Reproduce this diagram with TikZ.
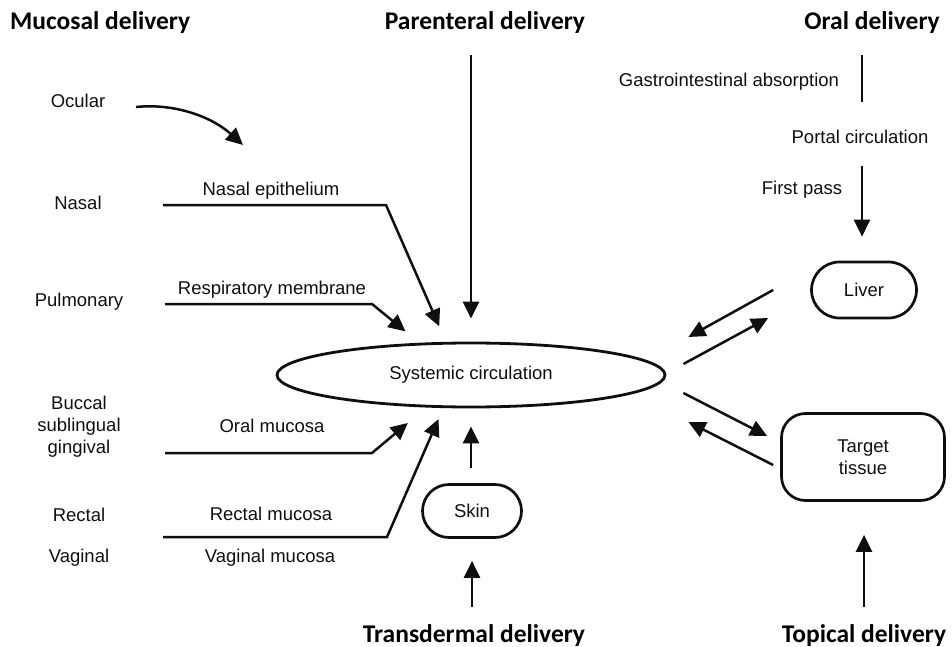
\documentclass[tikz,border=0pt]{standalone}
\usepackage{fontspec}
\setmainfont{Liberation Sans}
\newfontfamily\headfont{Carlito}
\usepackage{tikz}
\usetikzlibrary{arrows.meta,calc,shapes.geometric,shapes.misc}
\definecolor{figline}{RGB}{15,15,15}
\tikzset{
  hd/.style   ={font=\headfont\bfseries\fontsize{25.5}{30}\selectfont, inner sep=0pt},
  lab/.style  ={font=\fontsize{18.5}{22}\selectfont, inner sep=1pt, text=figline},
  oval/.style ={lab, draw=figline, line width=2.8pt, ellipse, inner sep=0pt,
                minimum width=388pt, minimum height=64pt},
  pill/.style ={lab, draw=figline, line width=2.7pt, rounded rectangle, inner sep=0pt},
  box/.style  ={lab, draw=figline, line width=2.7pt, rectangle, rounded corners=24pt,
                align=center, inner sep=0pt},
  rte/.style  ={draw=figline, line width=2.5pt},
  arw/.style  ={draw=figline, line width=2.5pt, -{Triangle[length=17pt,width=16pt]}},
}

\begin{document}
\begin{tikzpicture}[x=1pt,y=-1pt]
  \useasboundingbox (0,0) rectangle (952,647);
  \node[hd,anchor=base west] (mucosal) at (10,30) {Mucosal delivery};
  \node[hd,anchor=base] (parenteral) at (485,30) {Parenteral delivery};
  \node[hd,anchor=base east] (oral) at (940,30) {Oral delivery};
  \node[hd,anchor=base] (transdermal) at (474,642) {Transdermal delivery};
  \node[hd,anchor=base] (topical) at (864,642) {Topical delivery};

  \node[oval] (sys) at (471,375) {Systemic circulation};
  \node[pill,minimum width=105pt,minimum height=56pt] (liver) at (864,290) {Liver};
  \node[pill,minimum width=99pt,minimum height=53pt] (skin) at (472,511) {Skin};
  \node[box,minimum width=163pt,minimum height=87pt] (target) at (863,457) {Target\\tissue};

  \node[lab,anchor=base] (ocular) at (78,108) {Ocular};
  \node[lab,anchor=base] (nasal) at (78,209) {Nasal};
  \node[lab,anchor=base] (pulmonary) at (79,306) {Pulmonary};
  \node[lab,anchor=north,align=center] (buccal) at (79,395) {Buccal\\sublingual\\gingival};
  \node[lab,anchor=base] (rectal) at (79,521) {Rectal};
  \node[lab,anchor=base] (vaginal) at (79,562) {Vaginal};
  \node[lab,anchor=base] (nasalepi) at (271,195) {Nasal epithelium};
  \node[lab,anchor=base] (respmem) at (272,294) {Respiratory membrane};
  \node[lab,anchor=base] (oralmuc) at (272,432) {Oral mucosa};
  \node[lab,anchor=base] (rectmuc) at (271,520) {Rectal mucosa};
  \node[lab,anchor=base] (vagmuc) at (270,562) {Vaginal mucosa};
  \node[lab,anchor=base] (giabs) at (729,87) {Gastrointestinal absorption};
  \node[lab,anchor=base] (portal) at (860,144) {Portal circulation};
  \node[lab,anchor=base] (firstpass) at (802,194) {First pass};

  \coordinate (ocA) at (136,107);
  \coordinate (ocB) at (243,145);
  \draw[arw] (ocA) .. controls (175,103) and (212,117) .. (ocB);

  \coordinate (nasA) at (163,205);
  \coordinate (nasB) at (386,205);
  \draw[arw,shorten >=17pt] (nasA) -- (nasB) -- (sys.127);
  \coordinate (pulA) at (165,304);
  \coordinate (pulB) at (372,304);
  \draw[arw,shorten >=18pt] (pulA) -- (pulB) -- (sys.148);
  \coordinate (bucA) at (165,453);
  \coordinate (bucB) at (372,453);
  \draw[arw,shorten >=24pt] (bucA) -- (bucB) -- (sys.216);
  \coordinate (recA) at (163,537);
  \coordinate (recB) at (387,537);
  \draw[arw,shorten >=12pt] (recA) -- (recB) -- (sys.230);

  \coordinate (parA) at (471,55);
  \draw[arw,shorten >=23pt] (parA) -- (sys.north);
  \draw[arw,shorten <=15pt,shorten >=18pt] (skin.north -| sys.south) -- (sys.south);
  \coordinate (trA) at (472,607);
  \draw[arw,shorten >=22pt] (trA) -- (skin.south);
  \coordinate (topA) at (864,607);
  \draw[arw,shorten >=33pt] (topA) -- (target.south -| topA);

  \coordinate (giA) at (862,55);
  \coordinate (giB) at (862,102);
  \draw[rte] (giA) -- (giB);
  \coordinate (fpA) at (862,166);
  \draw[arw,shorten >=24pt] (fpA) -- (liver.north -| fpA);

  \draw[arw] ($(liver.west)+(-37,0)$) -- ($(sys.east)+(22,-38)$);
  \draw[arw] ($(sys.east)+(17,-11)$) -- ($(liver.west)+(-42,28)$);
  \draw[arw] ($(sys.east)+(17,18)$) -- ($(target.west)+(-13,-21)$);
  \draw[arw] ($(target.west)+(-7,8)$) -- ($(sys.east)+(22,47)$);
\end{tikzpicture}
\end{document}
